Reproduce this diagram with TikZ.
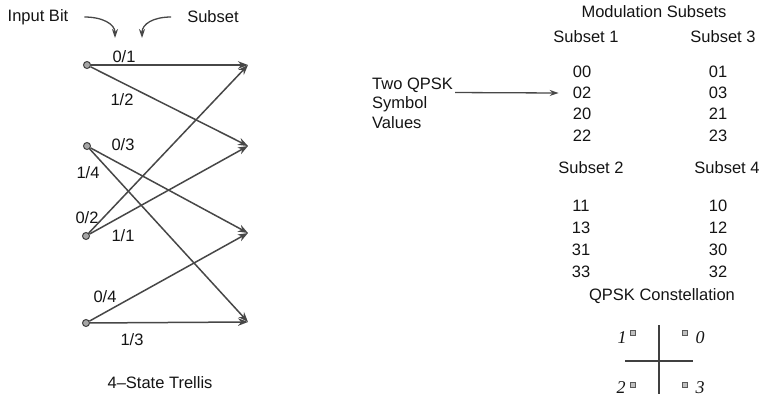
\documentclass[tikz,border=0pt]{standalone}
\usepackage{fontspec}
\setmainfont{Liberation Sans}
\newfontfamily\constfont{Liberation Serif}
\usetikzlibrary{arrows.meta}
\begin{document}
\begin{tikzpicture}[x=1pt,y=-1pt,
  lbl/.style={inner sep=0pt, font=\fontsize{16.5}{18}\selectfont, text=black!92},
  pointlbl/.style={inner sep=0pt, font=\constfont\itshape\fontsize{18}{20}\selectfont, text=black!92},
  state/.style={circle, draw=black!75, fill=black!35, line width=1pt,
                minimum size=7pt, inner sep=0pt},
  trans/.style={draw=black!72, line width=1.5pt,
                -{Stealth[length=10pt,width=7.5pt,fill=black!35]}},
  pointer/.style={draw=black!72, line width=1.3pt,
                  -{Stealth[length=9pt,width=6pt,fill=black!35]}},
  axis/.style={draw=black!75, line width=1.5pt},
  sigpt/.style={draw=black!65, fill=black!25, line width=0.6pt,
                minimum size=4.5pt, inner sep=0pt}
]
\useasboundingbox (0,0) rectangle (765,399);

% ---------- 4-state trellis ----------
\node[state] (l0) at (87,65) {};
\node[state] (l1) at (87,146) {};
\node[state] (l2) at (86,236) {};
\node[state] (l3) at (86,323) {};
\coordinate (r0) at (248,65);
\coordinate (r1) at (248,146);
\coordinate (r2) at (248,233);
\coordinate (r3) at (248,322);

\draw[trans] (l0) -- (r0);
\draw[trans] (l0) -- (r1);
\draw[trans] (l1) -- (r2);
\draw[trans] (l1) -- (r3);
\draw[trans] (l2) -- (r0);
\draw[trans] (l2) -- (r1);
\draw[trans] (l3) -- (r2);
\draw[trans] (l3) -- (r3);

% branch labels: input bit / subset
\node[lbl] (t01) at (124,57)  {0/1};
\node[lbl] (t12) at (122,100) {1/2};
\node[lbl] (t03) at (123,145) {0/3};
\node[lbl] (t14) at (88,173)  {1/4};
\node[lbl] (t02) at (87,218)  {0/2};
\node[lbl] (t11) at (123,236) {1/1};
\node[lbl] (t04) at (105,297) {0/4};
\node[lbl] (t13) at (132,340) {1/3};

\node[lbl] (trellis) at (160,383) {4--State Trellis};

% legend for the label format
\node[lbl] (inbit)  at (38,17)  {Input Bit};
\node[lbl] (subset) at (213,17) {Subset};
\coordinate (inbitEnd)  at (115,38);
\coordinate (subsetEnd) at (142,38);
\draw[pointer] ([xshift=16pt]inbit.east) .. controls +(18,0) and +(0,-14) .. (inbitEnd);
\draw[pointer] ([xshift=-16pt]subset.west) .. controls +(-18,0) and +(0,-14) .. (subsetEnd);

% ---------- modulation subsets ----------
\node[lbl, anchor=west] (tq1) at (372,85)  {Two QPSK};
\node[lbl, anchor=west] (tq2) at (372,104) {Symbol};
\node[lbl, anchor=west] (tq3) at (372,123) {Values};

\node[lbl] (modsub) at (654,12) {Modulation Subsets};
\node[lbl] (sub1) at (586,37) {Subset 1};
\node[lbl] (sub3) at (723,37) {Subset 3};

\node[lbl] (a00) at (582,72)  {00};
\node[lbl] (a02) at (582,93)  {02};
\node[lbl] (a20) at (582,114) {20};
\node[lbl] (a22) at (582,136) {22};
\node[lbl] (c01) at (718,72)  {01};
\node[lbl] (c03) at (718,93)  {03};
\node[lbl] (c21) at (718,114) {21};
\node[lbl] (c23) at (718,136) {23};

\draw[pointer] ([xshift=2pt]tq1.south east) -- ([xshift=-14pt]a02.west);

\node[lbl] (sub2) at (591,168) {Subset 2};
\node[lbl] (sub4) at (727,168) {Subset 4};

\node[lbl] (b11) at (581,206) {11};
\node[lbl] (b13) at (581,228) {13};
\node[lbl] (b31) at (581,250) {31};
\node[lbl] (b33) at (581,272) {33};
\node[lbl] (d10) at (718,206) {10};
\node[lbl] (d12) at (718,228) {12};
\node[lbl] (d30) at (718,250) {30};
\node[lbl] (d32) at (718,272) {32};

% ---------- QPSK constellation ----------
\node[lbl] (qpsk) at (662,296) {QPSK Constellation};
\coordinate (vtop) at (659,325);
\coordinate (vbot) at (659,394);
\coordinate (hleft) at (625,361);
\coordinate (hright) at (693,361);
\draw[axis] (vtop) -- (vbot);
\draw[axis] (hleft) -- (hright);

\node[sigpt] (p1) at (633,333) {};
\node[sigpt] (p0) at (685,333) {};
\node[sigpt] (p2) at (633,385) {};
\node[sigpt] (p3) at (685,385) {};
\node[pointlbl] (n1) at (622,338) {1};
\node[pointlbl] (n0) at (700,338) {0};
\node[pointlbl] (n2) at (621,388) {2};
\node[pointlbl] (n3) at (700,388) {3};
\end{tikzpicture}
\end{document}
